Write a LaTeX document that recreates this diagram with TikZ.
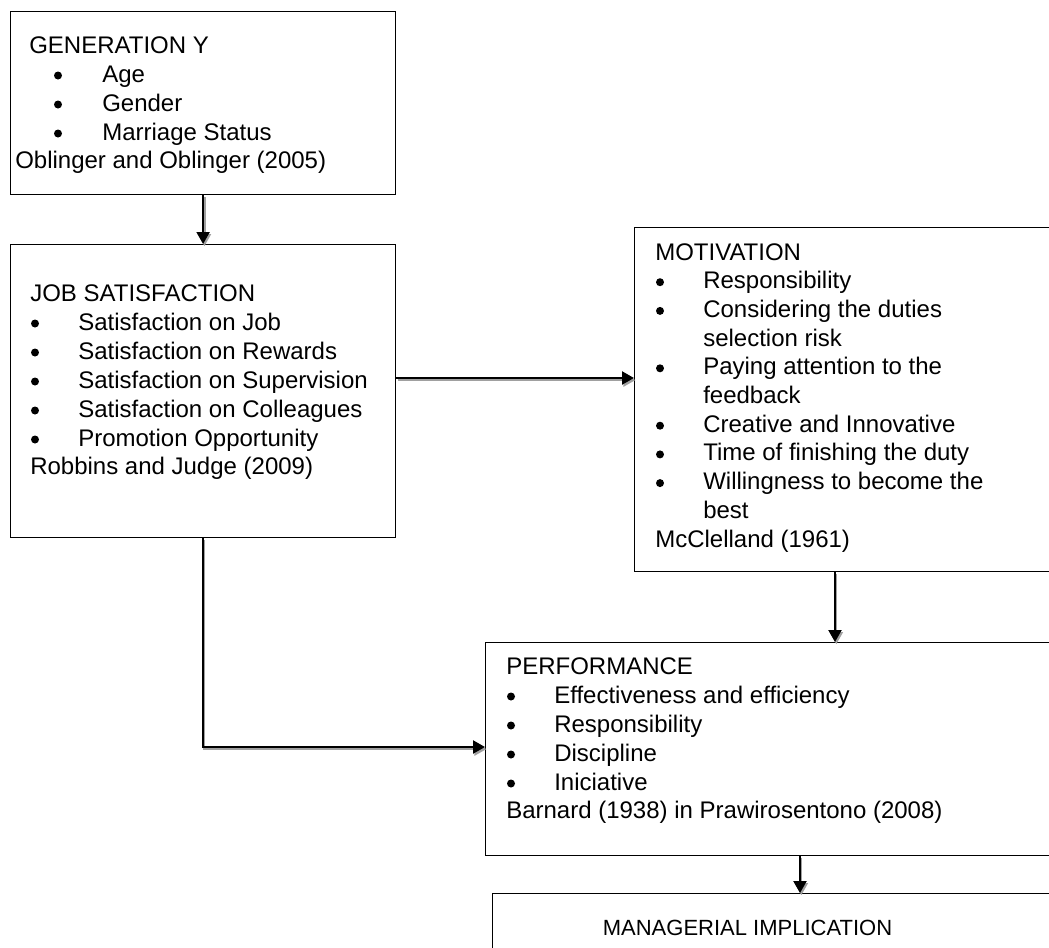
\documentclass[tikz,border=0pt]{standalone}
\usepackage{fontspec}
\setmainfont{Liberation Sans}
\usetikzlibrary{arrows.meta,calc}
\newcommand\fs{\fontsize{18pt}{21.75pt}\selectfont}
\definecolor{shadowgray}{HTML}{A0A0A0}
\begin{document}
\begin{tikzpicture}[x=0.75pt,y=-0.75pt,
  bx/.style={draw, line width=0.9pt, anchor=north west, inner sep=0pt},
  txt/.style={anchor=base west, inner sep=0pt, font=\fs},
  dot/.style={circle, fill=black, inner sep=0pt, minimum size=6pt},
  arr/.style={line width=1.6pt, -{Triangle[length=9pt,width=9.75pt]}},
  shd/.style={arr, draw=shadowgray, transform canvas={xshift=1pt,yshift=-1.6pt}}]
\useasboundingbox (0,0) rectangle (1049,947);
\clip (0,0) rectangle (1049,947);
% boxes
\node[bx, minimum width=288.75pt, minimum height=137.25pt] (g) at (10,11) {};
\node[bx, minimum width=288.75pt, minimum height=219.75pt] (j) at (10,244) {};
\node[bx, minimum width=330pt, minimum height=258pt] (m) at (634,227) {};
\node[bx, minimum width=442.5pt, minimum height=159.75pt] (p) at (485,642) {};
\node[bx, minimum width=442.5pt, minimum height=75pt] (mi) at (492,893) {};
% texts: generation Y
\node[txt] (g0) at (29,53) {GENERATION Y};
\node[txt] (g1) at (102,82) {Age};
\node[txt] (g2) at (102,111) {Gender};
\node[txt] (g3) at (102,140) {Marriage Status};
\node[txt] (g4) at (15,168) {Oblinger and Oblinger (2005)};
\foreach \y [count=\i] in {82,111,140} \node[dot] (gb\i) at (58,\y-6.5) {};
% job satisfaction
\node[txt] (j0) at (30,301) {JOB SATISFACTION};
\node[txt] (j1) at (78,330) {Satisfaction on Job};
\node[txt] (j2) at (78,359) {Satisfaction on Rewards};
\node[txt] (j3) at (78,388) {Satisfaction on Supervision};
\node[txt] (j4) at (78,417) {Satisfaction on Colleagues};
\node[txt] (j5) at (78,446) {Promotion Opportunity};
\node[txt] (j6) at (30,474) {Robbins and Judge (2009)};
\foreach \y [count=\i] in {330,359,388,417,446} \node[dot] (jb\i) at (35,\y-6.5) {};
% motivation
\node[txt] (m0) at (655,260) {MOTIVATION};
\node[txt] (m1) at (703,288.7) {Responsibility};
\node[txt] (m2) at (703,317.4) {Considering the duties};
\node[txt] (m3) at (703,346.1) {selection risk};
\node[txt] (m4) at (703,374.8) {Paying attention to the};
\node[txt] (m5) at (703,403.5) {feedback};
\node[txt] (m6) at (703,432.2) {Creative and Innovative};
\node[txt] (m7) at (703,460.9) {Time of finishing the duty};
\node[txt] (m8) at (703,489.6) {Willingness to become the};
\node[txt] (m9) at (703,518.3) {best};
\node[txt] (m10) at (655,547) {McClelland (1961)};
\foreach \y [count=\i] in {288.7,317.4,374.8,432.2,460.9,489.6} \node[dot] (mb\i) at (660,\y-6.5) {};
% performance
\node[txt] (p0) at (506,674) {PERFORMANCE};
\node[txt] (p1) at (554,703) {Effectiveness and efficiency};
\node[txt] (p2) at (554,732) {Responsibility};
\node[txt] (p3) at (554,761) {Discipline};
\node[txt] (p4) at (554,790) {Iniciative};
\node[txt] (p5) at (506,818) {Barnard (1938) in Prawirosentono (2008)};
\foreach \y [count=\i] in {703,732,761,790} \node[dot] (pb\i) at (511,\y-6.5) {};
% managerial implication
\node[txt, anchor=base, font=\fontsize{16.5pt}{19pt}\selectfont] (mi0) at (747.5,935) {MANAGERIAL IMPLICATION};
% connector anchors
\coordinate (jmS) at ([yshift=-100.5pt]j.north east);
\coordinate (jpS) at ([xshift=144.75pt]j.south west);
\coordinate (jpE) at ([yshift=-78.75pt]p.north west);
\coordinate (mpS) at ([xshift=150.75pt]m.south west);
\coordinate (pmS) at ([xshift=236.25pt]p.south west);
% connectors: shadows
\draw[shd] (g.south) -- (j.north);
\draw[shd] (jmS) -- (jmS -| m.west);
\draw[shd] (jpS) |- (jpE);
\draw[shd] (mpS) -- (mpS |- p.north);
\draw[shd] (pmS) -- (pmS |- mi.north);
% connectors
\draw[arr] (g.south) -- (j.north);
\draw[arr] (jmS) -- (jmS -| m.west);
\draw[arr] (jpS) |- (jpE);
\draw[arr] (mpS) -- (mpS |- p.north);
\draw[arr] (pmS) -- (pmS |- mi.north);
\end{tikzpicture}
\end{document}
